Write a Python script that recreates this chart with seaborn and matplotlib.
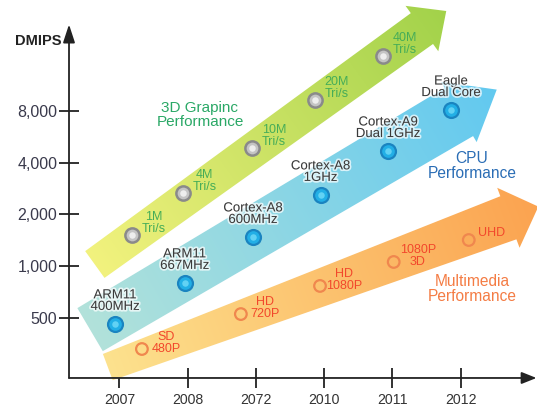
import numpy as np
import pandas as pd
import matplotlib.pyplot as plt
import seaborn as sns
from matplotlib.image import AxesImage
from matplotlib.patches import Polygon
from matplotlib import patheffects as pe

sns.set_theme(style="white")
plt.rcParams['font.family'] = ['Liberation Sans', 'DejaVu Sans']

# data
years = ['2007', '2008', '2072', '2010', '2011', '2012']
dmips_ticks = [500, 1000, 2000, 4000, 8000]

gpu_labels = ['1M\nTri/s', '4M\nTri/s', '10M\nTri/s', '20M\nTri/s', '40M\nTri/s']
gpu_x = [0.18, 0.93, 1.94, 2.86, 3.86]
gpu_dmips = [1520, 2670, 4870, 9270, 16700]

cpu_labels = ['ARM11\n400MHz', 'ARM11\n667MHz', 'Cortex-A8\n600MHz',
              'Cortex-A8\n1GHz', 'Cortex-A9\nDual 1GHz', 'Eagle\nDual Core']
cpu_x = [-0.06, 0.96, 1.96, 2.95, 3.94, 4.86]
cpu_dmips = [462, 800, 1480, 2600, 4680, 8100]

media_labels = ['SD\n480P', 'HD\n720P', 'HD\n1080P', '1080P\n3D', 'UHD']
media_x = [0.33, 1.78, 2.94, 4.02, 5.12]
media_dmips = [330, 527, 768, 1059, 1421]

gpu = pd.DataFrame({'x': gpu_x, 'dmips': gpu_dmips, 'label': gpu_labels})
cpu = pd.DataFrame({'x': cpu_x, 'dmips': cpu_dmips, 'label': cpu_labels})
media = pd.DataFrame({'x': media_x, 'dmips': media_dmips, 'label': media_labels})

W, H = 537, 407
fig = plt.figure(figsize=(W / 100, H / 100), dpi=100)
ax = fig.add_axes([0, 0, 1, 1])
ax.set_yscale('log', base=2)
ax.set_xlim(-1.75, 6.12)
ax.set_ylim(500 * 2 ** -1.72, 500 * 2 ** 6.145)


def trend_arrow(df, x_tail, x_tip, nudge, w_tail, w_base, head_w, head_len, c0, c1, z):
    # big gradient arrow laid along the trend of one series (screen pixels)
    pts = ax.transData.transform(np.column_stack([df['x'], df['dmips']]))
    k, b = np.polyfit(pts[:, 0], pts[:, 1], 1)
    ex = ax.transData.transform([[x_tail, 1000], [x_tip, 1000]])[:, 0]
    tail = np.array([ex[0], k * ex[0] + b - nudge[0]])
    tip = np.array([ex[1], k * ex[1] + b - nudge[1]])
    L = np.hypot(*(tip - tail))
    u = (tip - tail) / L
    n = np.array([-u[1], u[0]])
    base = tip - u * head_len
    verts = [tail + n * w_tail / 2, base + n * w_base / 2, base + n * head_w / 2, tip,
             base - n * head_w / 2, base - n * w_base / 2, tail - n * w_tail / 2]
    verts = ax.transAxes.inverted().transform(verts)
    poly = Polygon(verts, closed=True, transform=ax.transAxes, facecolor='none', edgecolor='none')
    ax.add_patch(poly)

    xx, yy = np.meshgrid(np.arange(W) + 0.5, np.arange(H) + 0.5)
    t = np.clip(((xx - tail[0]) * u[0] + (yy - tail[1]) * u[1]) / L, 0, 1)[..., None]
    rgb = np.array(plt.matplotlib.colors.to_rgb(c0)) * (1 - t) + np.array(plt.matplotlib.colors.to_rgb(c1)) * t
    im = AxesImage(ax, extent=(0, 1, 0, 1), origin='lower', interpolation='bilinear',
                   transform=ax.transAxes, zorder=z)
    im.set_data(rgb)
    ax.add_image(im)
    im.set_clip_path(poly)


trend_arrow(media, -0.17, 6.14, (8, -8), 28, 46, 64, 32, '#fde28e', '#fba350', 1)
trend_arrow(cpu, -0.43, 5.53, (-12, 8), 50, 56, 70, 44, '#b2e2da', '#62c9f0', 2)
trend_arrow(gpu, -0.36, 4.79, (6, 2), 33, 38, 56, 30, '#f2f27e', '#a2d24a', 3)

# markers
sns.scatterplot(data=gpu, x='x', y='dmips', ax=ax, s=105, color='#c4c4c4',
                edgecolor='#8a8a8a', linewidth=1.8, zorder=5, legend=False)
sns.scatterplot(data=gpu, x='x', y='dmips', ax=ax, s=22, color='#eeeeee',
                linewidth=0, zorder=6, legend=False)
sns.scatterplot(data=cpu, x='x', y='dmips', ax=ax, s=115, color='#22afe6',
                edgecolor='#1a84c0', linewidth=1.6, zorder=5, legend=False)
sns.scatterplot(data=cpu, x='x', y='dmips', ax=ax, s=22, color='#62d2f4',
                linewidth=0, zorder=6, legend=False)
sns.scatterplot(data=media, x='x', y='dmips', ax=ax, s=70, facecolor='none',
                edgecolor='#f0874e', linewidth=1.6, zorder=5, legend=False)

# point labels
for _, r in gpu.iterrows():
    ax.annotate(r['label'], (r['x'], r['dmips']), xytext=(22, 12), textcoords='offset pixels',
                ha='center', va='center', fontsize=9, color='#46ad58', linespacing=0.95, zorder=7)
glow = [pe.withStroke(linewidth=2.5, foreground='white', alpha=0.7)]
for _, r in cpu.iterrows():
    ax.annotate(r['label'], (r['x'], r['dmips']), xytext=(0, 11), textcoords='offset pixels',
                ha='center', va='bottom', fontsize=9.5, color='#3a3a3a', linespacing=0.95,
                zorder=7, path_effects=glow)
for _, r in media.iterrows():
    one_line = '\n' not in r['label']
    ax.annotate(r['label'], (r['x'], r['dmips']),
                xytext=(9, 7) if one_line else (24, 6), textcoords='offset pixels',
                ha='left' if one_line else 'center', va='center', fontsize=9,
                color='#f2482c', linespacing=0.95, zorder=7)

# series titles
ax.text(0.3724, 0.717, '3D Grapinc\nPerformance', transform=ax.transAxes, ha='center', va='center',
        fontsize=11, color='#2aa866', linespacing=0.95, zorder=7)
ax.text(0.879, 0.592, 'CPU\nPerformance', transform=ax.transAxes, ha='center', va='center',
        fontsize=11.2, color='#2a6db5', linespacing=0.95, zorder=7)
ax.text(0.879, 0.29, 'Multimedia\nPerformance', transform=ax.transAxes, ha='center', va='center',
        fontsize=11.2, color='#f47c44', linespacing=0.95, zorder=7)

# axes drawn as arrows with crossing ticks
for s in ax.spines.values():
    s.set_visible(False)
ax.spines['left'].set_position(('axes', 0.1285))
ax.spines['bottom'].set_position(('axes', 0.0713))
ax.annotate('', xy=(0.1285, 0.94), xytext=(0.1285, 0.0713), xycoords='axes fraction',
            arrowprops=dict(arrowstyle='-|>,head_length=1.1,head_width=0.36', lw=1.3,
                            color='#222222', shrinkA=0, shrinkB=0, mutation_scale=10))
ax.annotate('', xy=(0.999, 0.0713), xytext=(0.1285, 0.0713), xycoords='axes fraction',
            arrowprops=dict(arrowstyle='-|>,head_length=0.9,head_width=0.36', lw=1.3,
                            color='#222222', shrinkA=0, shrinkB=0, mutation_scale=10))

ax.set_xticks(range(len(years)), years)
ax.set_yticks(dmips_ticks, [f'{v:,}' for v in dmips_ticks])
ax.minorticks_off()
ax.tick_params(axis='both', direction='inout', length=14, width=1.3, color='#222222',
               left=True, bottom=True)
ax.tick_params(axis='y', pad=1.5, labelsize=11.5, labelcolor='#3a3a4c')
ax.tick_params(axis='x', pad=4, labelsize=10.2, labelcolor='#333333')
ax.set_xlabel('')
ax.set_ylabel('')
ax.text(0.1136, 0.899, 'DMIPS', transform=ax.transAxes, ha='right', va='center',
        fontsize=10.5, fontweight='bold', color='#222222')

fig.savefig('out.png', dpi=100)
